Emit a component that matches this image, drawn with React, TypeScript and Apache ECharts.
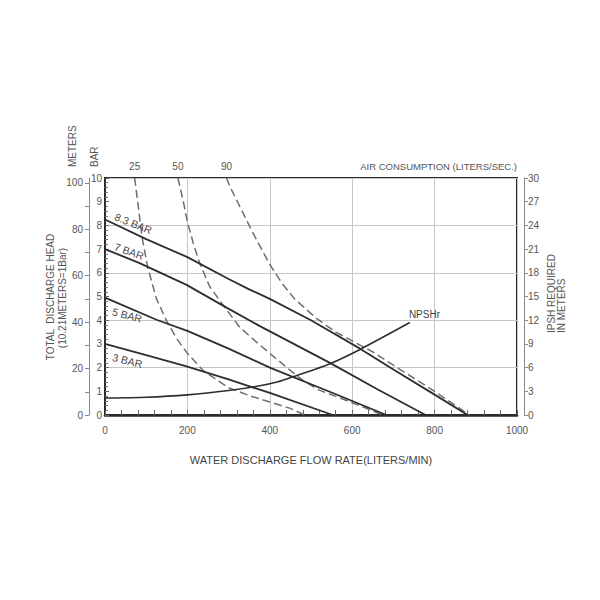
import React, { useEffect, useRef } from "react";
import * as echarts from "echarts";

// ---- data ----
const flowTicks = [0, 200, 400, 600, 800, 1000];
const meterTicks = [0, 20, 40, 60, 80, 100];
const meterMinorTicks = [0, 10, 20, 30, 40, 50, 60, 70, 80, 90, 100];
const pressureLabels = ["8.3 BAR", "7 BAR", "5 BAR", "3 BAR"];
const airLabels = ["25", "50", "90"];

// head (bar) vs flow (l/min)
const curve83: number[][] = [[0, 8.25], [100, 7.42], [200, 6.66], [300, 5.74], [350, 5.3], [400, 4.9], [500, 4.0], [619, 2.8], [700, 1.92], [800, 0.86], [880, 0]];
const curve7: number[][] = [[0, 7.0], [84, 6.41], [198, 5.49], [295, 4.53], [376, 3.75], [546, 2.2], [660, 1.1], [778, 0]];
const curve5: number[][] = [[0, 4.95], [125, 4.02], [200, 3.55], [300, 2.8], [400, 2.0], [550, 0.95], [683, 0]];
const curve3: number[][] = [[0, 3.0], [100, 2.53], [198, 2.05], [300, 1.5], [400, 0.93], [553, 0]];

// air consumption (l/s) curves, head in bar
const air25: number[][] = [[72, 10], [80, 8.9], [90, 7.5], [104, 6.2], [125, 4.9], [150, 3.95], [175, 3.2], [200, 2.6], [240, 1.85], [300, 1.15], [350, 0.82], [400, 0.55], [450, 0.28], [485, 0]];
const air50: number[][] = [[177, 10], [189, 9.1], [200, 8.15], [215, 7.2], [230, 6.4], [254, 5.42], [295, 4.44], [327, 3.7], [376, 2.95], [400, 2.6], [457, 1.78], [481, 1.45], [520, 1.05], [570, 0.72], [620, 0.38], [675, 0]];
const air90: number[][] = [[295, 10], [303, 9.65], [330, 8.7], [360, 7.65], [400, 6.35], [430, 5.55], [460, 4.9], [513, 4.08], [560, 3.5], [619, 2.95], [651, 2.65], [700, 2.1], [800, 1.0], [885, 0]];

// NPSHr (meters) vs flow
const npshr: number[][] = [[0, 2.15], [100, 2.25], [200, 2.55], [300, 3.1], [376, 3.7], [420, 4.2], [460, 4.9], [546, 6.5], [619, 8.3], [740, 11.7]];

const FONT = "'Liberation Sans', Arial, sans-serif";
const TXT = "#555";
const SOLID = "#2e2e2e";
const DASH = "#6e6e6e";

export default function App() {
  const ref = useRef<HTMLDivElement>(null);
  useEffect(() => {
    document.body.style.margin = "0";
    if (!ref.current) return;
    const chart = echarts.init(ref.current, null, { renderer: "svg" });

    const solidLabel = (text: string, above: boolean, rot: number) => ({
      show: true,
      formatter: text,
      position: above ? [8, 2] : [9, 8],
      rotate: rot,
      align: "left",
      verticalAlign: above ? "bottom" : "top",
      color: "#484848",
      textBorderWidth: 0,
      fontSize: 10.5,
      fontFamily: FONT,
    });

    const solidSeries = (data: number[][], label: any) => ({
      type: "line",
      xAxisIndex: 0,
      yAxisIndex: 0,
      data: data.map((d, i) => (i === 0 ? { value: d, label } : { value: d })),
      smooth: false,
      symbol: "circle",
      symbolSize: 0,
      showSymbol: true,
      label: { show: false },
      lineStyle: { color: SOLID, width: 1.8 },
      itemStyle: { color: SOLID },
      silent: true,
      z: 3,
    });

    const dashSeries = (data: number[][], text: string) => ({
      type: "line",
      xAxisIndex: 0,
      yAxisIndex: 0,
      data: data.map((d, i) =>
        i === 0
          ? {
              value: d,
              label: {
                show: true,
                formatter: text,
                position: "top",
                distance: 7,
                color: TXT,
                textBorderWidth: 0,
                fontSize: 10,
                fontFamily: FONT,
              },
            }
          : { value: d }
      ),
      smooth: false,
      symbol: "circle",
      symbolSize: 0,
      showSymbol: true,
      label: { show: false },
      lineStyle: { color: DASH, width: 1.5, type: [8, 4] },
      itemStyle: { color: DASH },
      silent: true,
      z: 2,
    });

    const option: any = {
      animation: false,
      backgroundColor: "#fff",
      textStyle: { fontFamily: FONT },
      grid: {
        left: 105,
        right: 83,
        top: 178,
        bottom: 185,
        show: true,
        borderColor: "#2b2b2b",
        borderWidth: 2,
        backgroundColor: "transparent",
      },
      xAxis: [
        {
          type: "value",
          min: 0,
          max: 1000,
          interval: 200,
          position: "bottom",
          axisLine: { show: true, onZero: false, lineStyle: { color: "#2b2b2b", width: 2.5 } },
          axisTick: { show: true, inside: true, length: 5, lineStyle: { color: "#666" } },
          minorTick: { show: true, splitNumber: 5, length: 5, lineStyle: { color: "#666" } },
          axisLabel: {
            color: TXT,
            fontSize: 10,
            margin: 10,
            fontFamily: FONT,
            customValues: flowTicks,
            formatter: (v: number) => String(v),
          },
          splitLine: { show: true, lineStyle: { color: "#c6c6c6", width: 1 } },
          name: "WATER DISCHARGE FLOW RATE(LITERS/MIN)",
          nameLocation: "middle",
          nameGap: 39,
          nameTextStyle: { color: "#444", fontSize: 11, fontFamily: FONT },
        },
      ],
      yAxis: [
        {
          // BAR
          type: "value",
          min: 0,
          max: 10,
          interval: 1,
          position: "left",
          axisLine: { show: true, onZero: false, lineStyle: { color: "#2b2b2b", width: 2 } },
          axisTick: { show: true, inside: true, length: 4, lineStyle: { color: "#666" } },
          minorTick: { show: true, splitNumber: 5, length: 3, lineStyle: { color: "#777" } },
          axisLabel: { color: TXT, fontSize: 10, margin: 3, fontFamily: FONT },
          splitLine: { show: false },
        },
        {
          // NPSH meters (right)
          type: "value",
          min: 0,
          max: 30,
          interval: 3,
          position: "right",
          offset: 7,
          axisLine: { show: true, onZero: false, lineStyle: { color: "#888", width: 1 } },
          axisTick: { show: true, length: 4, lineStyle: { color: "#888" } },
          axisLabel: { color: TXT, fontSize: 10, margin: 4, fontFamily: FONT },
          splitLine: { show: false },
        },
        {
          // METERS (left, outer)
          type: "value",
          min: 0,
          max: 102.1,
          interval: 20,
          position: "left",
          offset: 16,
          axisLine: { show: true, onZero: false, lineStyle: { color: "#888", width: 1 } },
          axisTick: { show: true, length: 4, customValues: meterMinorTicks, lineStyle: { color: "#888" } },
          axisLabel: { color: TXT, fontSize: 10, margin: 6, fontFamily: FONT, customValues: meterTicks },
          splitLine: { show: false },
        },
        {
          // hidden axis for horizontal grid lines
          type: "value",
          min: 0,
          max: 10,
          interval: 2,
          position: "left",
          axisLine: { show: false },
          axisTick: { show: false },
          axisLabel: { show: false },
          splitLine: { show: true, lineStyle: { color: "#c6c6c6", width: 1 } },
        },
      ],
      series: [
        dashSeries(air25, airLabels[0]),
        dashSeries(air50, airLabels[1]),
        dashSeries(air90, airLabels[2]),
        solidSeries(curve83, solidLabel(pressureLabels[0], true, -22)),
        solidSeries(curve7, solidLabel(pressureLabels[1], true, -20)),
        solidSeries(curve5, solidLabel(pressureLabels[2], false, -15)),
        solidSeries(curve3, solidLabel(pressureLabels[3], false, -14)),
        {
          type: "line",
          xAxisIndex: 0,
          yAxisIndex: 1,
          data: npshr.map((d, i) =>
            i === npshr.length - 1
              ? {
                  value: d,
                  label: {
                    show: true,
                    formatter: "NPSHr",
                    position: [-1, -8],
                    align: "left",
                    verticalAlign: "middle",
                    color: "#444",
                    textBorderWidth: 0,
                    fontSize: 10,
                    fontFamily: FONT,
                  },
                }
              : { value: d }
          ),
          smooth: 0.25,
          symbol: "circle",
          symbolSize: 0,
          showSymbol: true,
          label: { show: false },
          lineStyle: { color: SOLID, width: 1.6 },
          itemStyle: { color: SOLID },
          silent: true,
          z: 3,
        },
      ],
      graphic: [
        { type: "text", x: 72, y: 167, rotation: Math.PI / 2, style: { text: "METERS", align: "left", verticalAlign: "middle", fill: TXT, fontSize: 10, fontFamily: FONT } },
        { type: "text", x: 94, y: 167, rotation: Math.PI / 2, style: { text: "BAR", align: "left", verticalAlign: "middle", fill: TXT, fontSize: 10, fontFamily: FONT } },
        { type: "text", x: 517, y: 166, style: { text: "AIR CONSUMPTION (LITERS/SEC.)", align: "right", verticalAlign: "middle", fill: TXT, fontSize: 9.5, fontFamily: FONT } },
        { type: "text", x: 50, y: 297, rotation: Math.PI / 2, style: { text: "TOTAL  DISCHARGE HEAD", align: "center", verticalAlign: "middle", fill: TXT, fontSize: 10, fontFamily: FONT } },
        { type: "text", x: 62, y: 298, rotation: Math.PI / 2, style: { text: "(10.21METERS=1Bar)", align: "center", verticalAlign: "middle", fill: TXT, fontSize: 10, fontFamily: FONT } },
        { type: "text", x: 551, y: 333, rotation: Math.PI / 2, style: { text: "IPSH REQUIRED", align: "left", verticalAlign: "middle", fill: TXT, fontSize: 10, fontFamily: FONT } },
        { type: "text", x: 561, y: 333, rotation: Math.PI / 2, style: { text: "IN METERS", align: "left", verticalAlign: "middle", fill: TXT, fontSize: 10, fontFamily: FONT } },
      ],
    };

    chart.setOption(option);
    return () => chart.dispose();
  }, []);

  return <div ref={ref} style={{ width: 600, height: 600 }} />;
}
